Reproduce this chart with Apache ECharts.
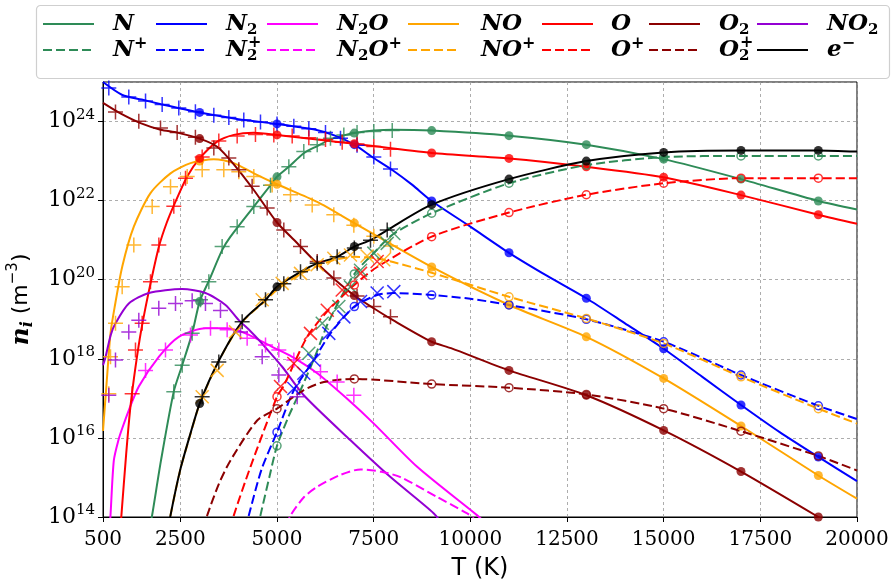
<!DOCTYPE html>
<html><head><meta charset="utf-8">
<script src="https://cdn.jsdelivr.net/npm/echarts@6/dist/echarts.min.js"></script>
<style>html,body{margin:0;padding:0;background:#fff}#c{width:892px;height:584px}</style>
</head><body><div id="c"></div>
<script>
// ---------- data (T in K, n in m^-3) ----------
const T_DOTS = [3000, 5000, 7000, 9000, 11000, 13000, 15000, 17000, 19000];

const N_LINE = [[1700,5e13],[1770,1.1e14],[2000,2.7e15],[2331,1.5e17],[2548,6.9e17],[2806,4.4e18],[3000,2.8e19],[3237,9.3e19],[3581,5.6e20],[3797,1.23e21],[4400,7.1e21],[4832,2.45e22],[5000,4.0e22],[5306,7.2e22],[5693,1.58e23],[6040,2.4e23],[6383,3.55e23],[6728,4.47e23],[7000,5.1e23],[7504,5.9e23],[8000,6.2e23],[9000,5.9e23],[11000,4.4e23],[13000,2.6e23],[15000,1.12e23],[17000,3.5e22],[19000,9.8e21],[20000,6.0e21]];
const N_DOTS = [2.8e19, 4.0e22, 5.1e23, 5.9e23, 4.4e23, 2.6e23, 1.12e23, 3.5e22, 9.8e21];
const N_PLUS = [[2331,1.48e17],[2548,6.9e17],[2806,4.4e18],[3022,3.1e19],[3237,8.9e19],[3581,6.9e20],[3970,2.2e21],[4400,7.1e21],[4832,2.45e22],[5306,7.2e22],[5693,1.74e23],[6040,2.6e23],[6383,3.8e23],[6728,4.6e23],[7070,5.25e23],[7504,5.6e23],[7980,5.9e23]];

const N2_LINE = [[500,1.0e25],[1000,4.7e24],[1500,3.6e24],[2000,2.75e24],[2500,2.15e24],[3000,1.7e24],[4000,1.15e24],[5000,8.7e23],[6000,6.2e23],[6500,4.4e23],[7000,2.6e23],[7500,1.2e23],[8000,5.8e22],[8500,2.5e22],[9000,9.8e21],[10000,2.2e21],[11000,4.8e20],[12000,1.23e20],[13000,3.4e19],[14000,7.9e18],[15000,1.8e18],[16000,3.5e17],[17000,6.8e16],[18000,1.4e16],[19000,3.3e15],[20000,8.1e14]];
const N2_DOTS = [1.7e24, 8.7e23, 2.6e23, 9.8e21, 4.8e20, 3.4e19, 1.8e18, 6.8e16, 3.3e15];
const N2_PLUS = [[650,7.1e24],[1167,4.2e24],[1600,3.3e24],[2030,2.7e24],[2460,2.2e24],[2890,1.78e24],[3366,1.45e24],[3754,1.26e24],[4141,1.1e24],[4573,9.8e23],[5000,8.7e23],[5435,7.6e23],[5823,6.6e23],[6254,5.25e23],[6642,3.8e23],[7070,2.5e23],[7504,1.26e23],[7935,6.3e22]];

const N2O_LINE = [[680,7e13],[694,1.1e14],[780,2.7e15],[900,8.9e15],[1000,1.78e16],[1167,5.0e16],[1426,2.0e17],[1943,1.12e18],[2460,3.6e18],[3150,5.9e18],[3668,5.9e18],[4185,4.4e18],[4875,2.0e18],[5393,1.12e18],[6040,4.3e17],[6800,1.0e17],[7504,2.3e16],[8625,1.86e15],[10178,1.1e14],[10400,7e13]];
const N2O_PLUS = [[1600,5.1e17],[2116,1.66e18],[2763,4.0e18],[3280,5.9e18],[3711,5.4e18],[4228,3.3e18],[4703,2.24e18],[5047,1.66e18],[5435,9.3e17],[6125,4.7e17],[6556,2.6e17],[6987,1.2e17]];

const NO_LINE = [[500,1.5e16],[600,3e17],[694,4.4e18],[800,2.0e19],[1000,2.2e20],[1297,2.2e21],[1728,1.55e22],[2246,4.9e22],[2763,8.9e22],[3366,1.12e23],[3883,8.9e22],[4400,4.9e22],[5000,2.6e22],[6040,9.3e21],[7000,2.7e21],[9000,2.1e20],[11000,2.3e19],[13000,3.6e18],[15000,3.2e17],[17000,2.0e16],[19000,1.12e15],[20000,2.9e14]];
const NO_DOTS = [1.0e23, 2.6e22, 2.7e21, 2.1e20, 2.3e19, 3.6e18, 3.2e17, 2.0e16, 1.12e15];
const NO_PLUS = [[650,1.3e17],[694,1.12e18],[823,7.9e18],[996,6.6e19],[1297,7.6e20],[1772,7.1e21],[2246,2.24e22],[2677,4.1e22],[3065,6.0e22],[3624,6.0e22],[4012,5.4e22],[4400,4.1e22],[4875,2.5e22],[5349,1.41e22],[5910,7.8e21],[6469,4.4e21],[6987,2.4e21],[7504,1.26e21],[7935,7.1e20]];

const O_LINE = [[950,5e13],[976,1.1e14],[1100,4e15],[1200,5e16],[1300,3.2e17],[1450,3.2e18],[1600,2.0e19],[1750,1.0e20],[1950,7.1e20],[2150,2.8e21],[2350,8.3e21],[2677,4.1e22],[3000,1.17e23],[3453,3.1e23],[3883,4.6e23],[4400,5.2e23],[5000,4.6e23],[6040,3.5e23],[7000,2.75e23],[9000,1.6e23],[11000,1.17e23],[13000,7.2e22],[15000,3.9e22],[17000,1.38e22],[19000,4.4e21],[20000,2.6e21]];
const O_DOTS = [1.17e23, 4.6e23, 2.75e23, 1.6e23, 1.17e23, 7.2e22, 3.9e22, 1.38e22, 4.4e21];
const O_PLUS = [[1254,1.3e17],[1340,1.66e18],[1513,7.9e18],[1728,8.9e19],[1944,7.6e20],[2331,7.2e21],[2634,3.7e22],[3065,1.26e23],[3495,3.2e23],[3970,4.3e23],[4443,4.7e23],[4918,4.6e23],[5393,4.3e23],[5823,3.9e23],[6254,3.5e23],[6686,3.0e23],[7070,2.7e23],[7504,2.35e23],[7935,2.0e23]];

const O2_LINE = [[500,2.95e24],[950,1.6e24],[1470,9.1e23],[1990,6.2e23],[2418,5.25e23],[3000,3.7e23],[3453,2.3e23],[3883,8.3e22],[4400,1.86e22],[5000,2.8e21],[5500,8.9e20],[6000,2.8e20],[6500,1.0e20],[7000,4.0e19],[7500,1.9e19],[8000,9.5e18],[9000,2.7e18],[9500,1.86e18],[11000,5.1e17],[13000,1.2e17],[15000,1.55e16],[17000,1.41e15],[19000,1.0e14],[20000,2.5e13]];
const O2_DOTS = [3.7e23, 2.8e21, 4.0e19, 2.7e18, 5.1e17, 1.2e17, 1.55e16, 1.41e15, 1.0e14];
const O2_PLUS = [[823,1.74e24],[1426,1.02e24],[1987,6.9e23],[2418,5.25e23],[2890,4.0e23],[3366,2.14e23],[3754,1.2e23],[4012,6.0e22],[4357,2.3e22],[4746,6.5e21],[5176,1.82e21],[5608,6.9e20],[6040,2.9e20],[6470,1.1e20],[7070,3.9e19],[7504,2.1e19],[7935,1.15e19]];

const NO2_LINE = [[500,6.9e17],[565,1.1e18],[700,4.0e18],[823,7.9e18],[1167,2.5e19],[1684,4.6e19],[2548,5.8e19],[3150,4.6e19],[3668,2.3e19],[4012,9.5e18],[4314,5.0e18],[4530,3.0e18],[5134,6.3e17],[5693,1.2e17],[6901,8.7e15],[7935,1.02e15],[9056,1.23e14],[9300,6e13]];
const NO2_PLUS = [[650,1.2e17],[823,9.3e17],[1167,4.8e18],[1426,9.5e18],[1943,1.9e19],[2375,2.5e19],[2806,2.95e19],[3150,2.5e19],[3538,1.66e19],[4055,4.8e18],[4617,1.12e18],[5047,3.9e17],[5522,1.1e17]];

const NP_LINE = [[4500,5e13],[4572,1.1e14],[4800,1.0e15],[5000,6.3e15],[5300,3.5e16],[5606,1.58e17],[6000,1.26e18],[6340,8.9e18],[7000,1.4e20],[7500,4.7e20],[8000,1.41e21],[9000,4.8e21],[11000,2.75e22],[13000,7.9e22],[15000,1.26e23],[17000,1.35e23],[19000,1.35e23],[20000,1.35e23]];
const NP_DOTS = [null, 6.3e15, 1.4e20, 4.8e21, 2.75e22, 7.9e22, 1.26e23, 1.35e23, 1.35e23];
const NP_CROSS = [[5823,1.38e18],[6170,7.9e18],[6600,2.1e19],[6900,6.6e19],[7160,1.74e20],[7504,4.7e20],[7850,8.3e20],[8021,1.48e21]];

const N2P_LINE = [[4200,5e13],[4272,1.1e14],[4600,1.6e15],[5000,1.4e16],[5435,1.6e17],[5952,9.3e17],[6383,4.4e18],[7000,2.1e19],[7590,4.1e19],[8000,4.6e19],[9000,4.1e19],[10000,3.3e19],[11000,2.3e19],[13000,1.0e19],[15000,2.7e18],[17000,3.9e17],[19000,6.5e16],[20000,3.0e16]];
const N2P_DOTS = [null, 1.4e16, 2.1e19, 4.1e19, 2.3e19, 1.0e19, 2.7e18, 3.9e17, 6.5e16];
const N2P_CROSS = [[5435,1.78e17],[5693,4.3e17],[5952,9.3e17],[6340,4.4e18],[6728,1.15e19],[7160,2.8e19],[7590,4.6e19],[8021,5.0e19]];

const N2OP_LINE = [[5250,6e13],[5350,1.1e14],[5700,3.2e14],[6040,5.8e14],[6600,1.12e15],[7160,1.6e15],[7700,1.4e15],[8194,1.02e15],[9143,3.2e14],[9919,1.23e14],[10100,9e13]];

const NOP_LINE = [[2200,5e13],[2246,1.1e14],[2500,1.6e15],[2763,1.26e16],[3000,7.2e16],[3495,8.9e17],[4099,8.5e18],[4703,2.95e19],[5000,5.6e19],[5608,1.4e20],[6040,2.2e20],[6500,3.2e20],[7000,3.8e20],[7500,3.55e20],[8000,2.8e20],[9000,1.5e20],[11000,3.7e19],[13000,1.05e19],[15000,2.45e18],[17000,3.5e17],[19000,5.5e16],[20000,2.3e16]];
const NOP_DOTS = [null, null, null, 1.5e20, 3.7e19, 1.05e19, 2.45e18, 3.5e17, 5.5e16];
const NOP_CROSS = [[3065,1.1e17],[3453,5.1e17],[3926,4.8e18],[4617,3.1e19],[5134,8.1e19],[5608,1.45e20],[6040,2.4e20],[6470,3.5e20],[6900,4.2e20],[7330,4.0e20],[7760,3.2e20]];

const OP_LINE = [[3800,5e13],[3883,1.1e14],[4314,1.86e15],[5000,1.1e17],[5176,2.1e17],[5780,3.6e18],[6300,1.58e19],[7000,7.4e19],[7590,2.1e20],[9000,1.23e21],[11000,5.0e21],[13000,1.41e22],[15000,2.75e22],[17000,3.7e22],[19000,3.7e22],[20000,3.7e22]];
const OP_DOTS = [null, 1.1e17, 7.4e19, 1.23e21, 5.0e21, 1.41e22, 2.75e22, 3.7e22, 3.7e22];
const OP_CROSS = [[5091,2.0e17],[5435,7.6e17],[5866,4.4e18],[6300,1.7e19],[6686,5.5e19],[7160,1.45e20],[7590,2.9e20]];

const O2P_LINE = [[3100,5e13],[3195,1.1e14],[3500,7e14],[3797,2.7e15],[4487,2.75e16],[5000,5.5e16],[5693,1.62e17],[6212,2.6e17],[7000,3.1e17],[9000,2.3e17],[11000,1.86e17],[13000,1.26e17],[15000,5.5e16],[17000,1.48e16],[19000,3.5e15],[20000,1.5e15]];
const O2P_DOTS = [null, 5.5e16, 3.1e17, 2.3e17, 1.86e17, 1.26e17, 5.5e16, 1.48e16, 3.5e15];

const E_LINE = [[2200,5e13],[2246,1.1e14],[2500,1.6e15],[2763,1.3e16],[3000,7.4e16],[3495,8.9e17],[4099,8.7e18],[4703,3.1e19],[5000,6.6e19],[5608,1.58e20],[6040,2.6e20],[6556,3.8e20],[7000,6.9e20],[7418,1.0e21],[7850,1.8e21],[9000,7.9e21],[11000,3.5e22],[13000,1.0e23],[15000,1.66e23],[17000,1.86e23],[19000,1.86e23],[20000,1.74e23]];
const E_DOTS = [7.4e16, 6.6e19, 6.9e20, 7.9e21, 3.5e22, 1.0e23, 1.66e23, 1.86e23, 1.86e23];
const E_PLUS = [[3065,1.1e17],[3495,8.3e17],[4099,8.7e18],[4703,3.1e19],[5176,7.9e19],[5608,1.58e20],[6040,2.6e20],[6556,3.8e20],[7000,6.3e20],[7418,1.0e21],[7850,1.8e21]];

// ---------- species definitions ----------
// label: main text (rich); sup: superscript stacked above a subscript (N2+, O2+)
const SPECIES = [
  {name:'N',    label:'{i|N}',             sup:null,     color:'#2e8b57', dashed:false, line:N_LINE,    dots:N_DOTS,   marks:N_PLUS,   mark:'plus'},
  {name:'N2',   label:'{i|N}{sub|2}',      sup:null,     color:'#0000ff', dashed:false, line:N2_LINE,   dots:N2_DOTS,  marks:N2_PLUS,  mark:'plus'},
  {name:'N2O',  label:'{i|N}{sub|2}{i|O}', sup:null,     color:'#ff00ff', dashed:false, line:N2O_LINE,  dots:null,     marks:N2O_PLUS, mark:'plus'},
  {name:'NO',   label:'{i|NO}',            sup:null,     color:'#ffa500', dashed:false, line:NO_LINE,   dots:NO_DOTS,  marks:NO_PLUS,  mark:'plus'},
  {name:'O',    label:'{i|O}',             sup:null,     color:'#ff0000', dashed:false, line:O_LINE,    dots:O_DOTS,   marks:O_PLUS,   mark:'plus'},
  {name:'O2',   label:'{i|O}{sub|2}',      sup:null,     color:'#8b0000', dashed:false, line:O2_LINE,   dots:O2_DOTS,  marks:O2_PLUS,  mark:'plus'},
  {name:'NO2',  label:'{i|NO}{sub|2}',     sup:null,     color:'#9400d3', dashed:false, line:NO2_LINE,  dots:null,     marks:NO2_PLUS, mark:'plus'},
  {name:'N+',   label:'{i|N}{sup|+}',      sup:null,     color:'#2e8b57', dashed:true,  line:NP_LINE,   dots:NP_DOTS,  marks:NP_CROSS, mark:'cross'},
  {name:'N2+',  label:'{i|N}{sub|2}',      sup:{base:'N', text:'+'}, color:'#0000ff', dashed:true,  line:N2P_LINE,  dots:N2P_DOTS, marks:N2P_CROSS,mark:'cross'},
  {name:'N2O+', label:'{i|N}{sub|2}{i|O}{sup|+}', sup:null, color:'#ff00ff', dashed:true, line:N2OP_LINE, dots:null, marks:null, mark:null},
  {name:'NO+',  label:'{i|NO}{sup|+}',     sup:null,     color:'#ffa500', dashed:true,  line:NOP_LINE,  dots:NOP_DOTS, marks:NOP_CROSS,mark:'cross'},
  {name:'O+',   label:'{i|O}{sup|+}',      sup:null,     color:'#ff0000', dashed:true,  line:OP_LINE,   dots:OP_DOTS,  marks:OP_CROSS, mark:'cross'},
  {name:'O2+',  label:'{i|O}{sub|2}',      sup:{base:'O', text:'+'}, color:'#8b0000', dashed:true,  line:O2P_LINE,  dots:O2P_DOTS, marks:null, mark:null},
  {name:'e-',   label:'{i|e}{sup|\u2212}', sup:null,     color:'#000000', dashed:false, line:E_LINE,    dots:E_DOTS,   marks:E_PLUS,   mark:'plus'}
];

// ---------- layout / style ----------
const DASH = [9, 4];
const PLUS_PATH = 'path://M0,5L10,5M5,0L5,10';
const CROSS_PATH = 'path://M0,0L10,10M10,0L0,10';
const LEG_LINE_X = [43, 156, 267, 408, 542, 649, 757];
const LEG_TEXT_X = [113, 226, 337, 481, 611, 719, 827];
const LEG_ROW_Y = [24, 50];
const LEG_LINE_W = 51;
const MAIN_FONT = 'italic bold 23px "DejaVu Serif"';

const legendRich = {
  i:   {fontFamily:'DejaVu Serif', fontStyle:'italic', fontWeight:'bold', fontSize:23, lineHeight:28, fill:'#000'},
  sub: {fontFamily:'DejaVu Serif', fontWeight:'bold', fontSize:15, lineHeight:16, verticalAlign:'bottom', fill:'#000'},
  sup: {fontFamily:'DejaVu Serif', fontWeight:'bold', fontSize:16, lineHeight:16, verticalAlign:'top', fill:'#000'}
};

function textWidth(str, font) {
  const cv = document.createElement('canvas').getContext('2d');
  cv.font = font;
  return cv.measureText(str).width;
}

const series = [];
SPECIES.forEach(sp => {
  series.push({
    type:'line', name:sp.name, data:sp.line, symbol:'none', showSymbol:false,
    smooth:0.25, clip:true, silent:true, z:2,
    lineStyle:{color:sp.color, width:2, type: sp.dashed ? DASH : 'solid'}
  });
  if (sp.dots) {
    const d = [];
    T_DOTS.forEach((t, k) => { if (sp.dots[k] != null) d.push([t, sp.dots[k]]); });
    series.push({
      type:'scatter', name:sp.name + ' (pts)', data:d, symbol:'circle', clip:true, silent:true, z:4,
      symbolSize: sp.dashed ? 8 : 9,
      itemStyle: sp.dashed ? {color:'rgba(255,255,255,0)', borderColor:sp.color, borderWidth:1.5}
                           : {color:sp.color, borderWidth:0}
    });
  }
  if (sp.marks) {
    series.push({
      type:'scatter', name:sp.name + ' (ref)', data:sp.marks, clip:true, silent:true, z:3,
      symbol: sp.mark === 'plus' ? PLUS_PATH : CROSS_PATH,
      symbolSize: sp.mark === 'plus' ? 15 : 13,
      itemStyle:{color:'rgba(0,0,0,0)', borderColor:sp.color, borderWidth:1.5, opacity:0.8}
    });
  }
});

const graphic = [{
  type:'rect', z:100, shape:{x:36.5, y:5.5, width:853, height:73, r:4},
  style:{fill:'#ffffff', stroke:'#cfcfcf', lineWidth:1.2}
}];
SPECIES.forEach((sp, idx) => {
  const col = idx % 7, row = Math.floor(idx / 7);
  const y = LEG_ROW_Y[row];
  graphic.push({
    type:'line', z:101, shape:{x1:LEG_LINE_X[col], y1:y, x2:LEG_LINE_X[col] + LEG_LINE_W, y2:y},
    style:{stroke:sp.color, lineWidth:2.2, lineDash: sp.dashed ? DASH : null}
  });
  graphic.push({
    type:'text', z:101, x:LEG_TEXT_X[col], y:y,
    style:{text:sp.label, rich:legendRich, align:'left', verticalAlign:'middle'}
  });
  if (sp.sup) {
    graphic.push({
      type:'text', z:101, x:LEG_TEXT_X[col] + textWidth(sp.sup.base, MAIN_FONT) + 1, y:y - 7,
      style:{text:sp.sup.text, fontFamily:'DejaVu Serif', fontWeight:'bold', fontSize:16, fill:'#000', align:'left', verticalAlign:'middle'}
    });
  }
});

const chart = echarts.init(document.getElementById('c'), null, {renderer:'canvas'});
chart.setOption({
  animation:false,
  backgroundColor:'#ffffff',
  grid:{left:103, right:35, top:82, bottom:67, containLabel:false, outerBoundsMode:'none',
        show:true, borderColor:'#000', borderWidth:1, backgroundColor:'rgba(0,0,0,0)'},
  xAxis:{
    type:'value', min:500, max:20000, minInterval:2500, maxInterval:2500,
    axisLine:{show:true, onZero:false, lineStyle:{color:'#000', width:1}},
    axisTick:{show:true, length:5, lineStyle:{color:'#000'}},
    axisLabel:{color:'#000', fontFamily:'DejaVu Serif', fontSize:20, margin:13, showMinLabel:true, showMaxLabel:true,
      formatter:function(v){ return String(v); }},
    splitLine:{show:true, lineStyle:{color:'#999', width:0.8, type:[3,3]}},
    name:'T (K)', nameLocation:'middle', nameGap:40,
    nameTextStyle:{fontFamily:'DejaVu Sans', fontSize:24, color:'#000'}
  },
  yAxis:{
    type:'log', logBase:10, min:1e14, max:1e25, interval:2,
    axisLine:{show:true, onZero:false, lineStyle:{color:'#000', width:1}},
    axisTick:{show:true, length:5, lineStyle:{color:'#000'}},
    minorTick:{show:false},
    axisLabel:{
      margin:8, color:'#000', showMaxLabel:false,
      formatter:function(v){ const e = Math.round(Math.log10(v)); return (e % 2 === 0) ? '{b|10}{s|' + e + '}' : ''; },
      rich:{
        b:{fontFamily:'DejaVu Serif', fontSize:22, lineHeight:28, color:'#000'},
        s:{fontFamily:'DejaVu Serif', fontSize:15, lineHeight:15, verticalAlign:'top', color:'#000'}
      }
    },
    splitLine:{show:true, lineStyle:{color:'#999', width:0.8, type:[3,3]}},
    name:'{n|n}{ns|i}{t| (m}{ts|\u22123}{t|)}', nameLocation:'middle', nameGap:67, nameRotate:90,
    nameTextStyle:{
      rich:{
        n:{fontFamily:'DejaVu Serif', fontStyle:'italic', fontWeight:'bold', fontSize:25, lineHeight:30, color:'#000'},
        ns:{fontFamily:'DejaVu Serif', fontStyle:'italic', fontWeight:'bold', fontSize:16, lineHeight:16, verticalAlign:'bottom', color:'#000'},
        t:{fontFamily:'DejaVu Sans', fontSize:22, lineHeight:30, color:'#000'},
        ts:{fontFamily:'DejaVu Sans', fontSize:15, lineHeight:15, verticalAlign:'top', color:'#000'}
      }
    }
  },
  graphic: graphic,
  series: series
});
</script>
</body></html>
